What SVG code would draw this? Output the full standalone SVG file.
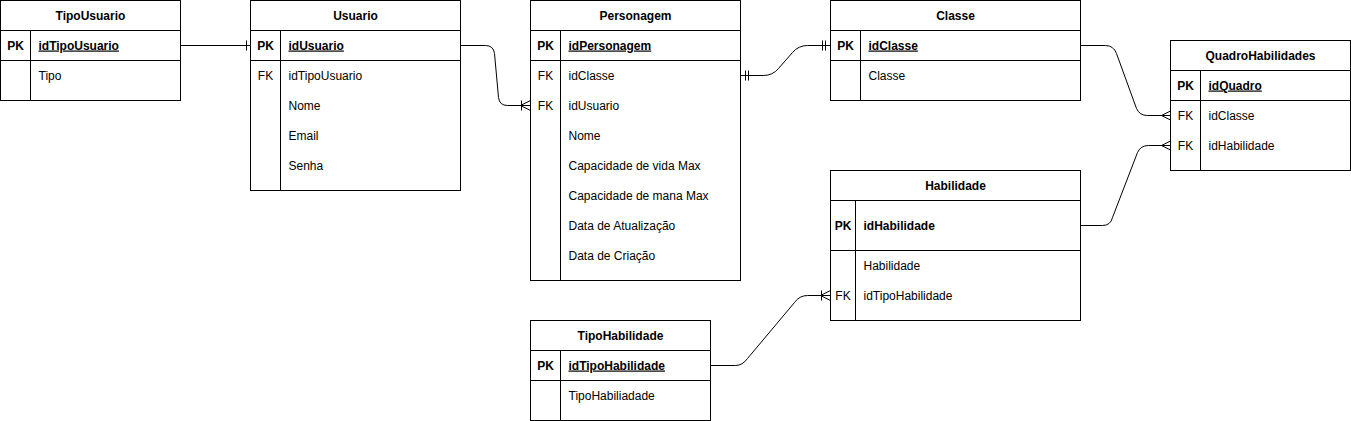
<svg xmlns="http://www.w3.org/2000/svg" width="1351" height="421" viewBox="0 0 1351 421">
<style>
.box{fill:#fff;stroke:#000;stroke-width:1}
.ln{fill:none;stroke:#000;stroke-width:1}
text{font-family:"Liberation Sans",Arial,Helvetica,sans-serif;font-size:12px;fill:#000}
.h{font-weight:bold;text-anchor:middle}
.k{text-anchor:middle}
.kb{text-anchor:middle;font-weight:bold}
.pk{font-weight:bold;text-decoration:underline}
.b{font-weight:bold}
.c{fill:none;stroke:#000;stroke-width:1}
</style>
<defs>
<marker id="one" markerUnits="userSpaceOnUse" orient="auto-start-reverse" markerWidth="20" markerHeight="20" refX="0" refY="0" overflow="visible"><path d="M-4,-5 L-4,5" fill="none" stroke="#000"/></marker>
<marker id="mandOne" markerUnits="userSpaceOnUse" orient="auto-start-reverse" markerWidth="20" markerHeight="20" refX="0" refY="0" overflow="visible"><path d="M-5,-5 L-5,5 M-8,-5 L-8,5" fill="none" stroke="#000"/></marker>
<marker id="oneToMany" markerUnits="userSpaceOnUse" orient="auto-start-reverse" markerWidth="20" markerHeight="20" refX="0" refY="0" overflow="visible"><path d="M-10,0 L0,-5 M-10,0 L0,5 M-9,-5 L-9,5" fill="none" stroke="#000"/></marker>
<marker id="many" markerUnits="userSpaceOnUse" orient="auto-start-reverse" markerWidth="20" markerHeight="20" refX="0" refY="0" overflow="visible"><path d="M-9,0 L0,-4.5 M-9,0 L0,4.5" fill="none" stroke="#000"/></marker>
</defs>
<g transform="translate(0.5,0.5)">
<g id="connectors">
<path class="c" d="M180,45 L250,45" marker-end="url(#one)"/>
<path class="c" d="M460,45 L485,45 Q493,45 494,53 L498,97 Q499,105 507,105 L530,105" marker-end="url(#oneToMany)"/>
<path class="c" d="M740,75 L763,75 Q772,75 778,68 L792,52 Q798,45 807,45 L830,45" marker-start="url(#mandOne)" marker-end="url(#mandOne)"/>
<path class="c" d="M1080,45 L1105,45 Q1113,45 1116,53 L1136,108 Q1139,115 1147,115 L1170,115" marker-end="url(#many)"/>
<path class="c" d="M1080,225 L1102,225 Q1110,225 1112,217 L1137,152 Q1140,145 1148,145 L1170,145" marker-end="url(#many)"/>
<path class="c" d="M710,365 L735,365 Q742,365 747,358 L794,302 Q799,295 807,295 L830,295" marker-end="url(#oneToMany)"/>
</g>
<g id="TipoUsuario">
<rect class="box" x="0" y="0" width="180" height="100"/>
<path class="ln" d="M0,30 H180 M0,60 H180 M30,30 V100"/>
<text class="h" x="90" y="19">TipoUsuario</text>
<text class="kb" x="15" y="49">PK</text>
<text class="pk" x="38" y="49">idTipoUsuario</text>
<text x="38" y="79">Tipo</text>
</g>
<g id="Usuario">
<rect class="box" x="250" y="0" width="210" height="190"/>
<path class="ln" d="M250,30 H460 M250,60 H460 M280,30 V190"/>
<text class="h" x="355" y="19">Usuario</text>
<text class="kb" x="265" y="49">PK</text>
<text class="pk" x="288" y="49">idUsuario</text>
<text class="k" x="265" y="79">FK</text>
<text x="288" y="79">idTipoUsuario</text>
<text x="288" y="109">Nome</text>
<text x="288" y="139">Email</text>
<text x="288" y="169">Senha</text>
</g>
<g id="Personagem">
<rect class="box" x="530" y="0" width="210" height="280"/>
<path class="ln" d="M530,30 H740 M530,60 H740 M560,30 V280"/>
<text class="h" x="635" y="19">Personagem</text>
<text class="kb" x="545" y="49">PK</text>
<text class="pk" x="568" y="49">idPersonagem</text>
<text class="k" x="545" y="79">FK</text>
<text x="568" y="79">idClasse</text>
<text class="k" x="545" y="109">FK</text>
<text x="568" y="109">idUsuario</text>
<text x="568" y="139">Nome</text>
<text x="568" y="169">Capacidade de vida Max</text>
<text x="568" y="199">Capacidade de mana Max</text>
<text x="568" y="229">Data de Atualização</text>
<text x="568" y="259">Data de Criação</text>
</g>
<g id="Classe">
<rect class="box" x="830" y="0" width="250" height="100"/>
<path class="ln" d="M830,30 H1080 M830,60 H1080 M860,30 V100"/>
<text class="h" x="955" y="19">Classe</text>
<text class="kb" x="845" y="49">PK</text>
<text class="pk" x="868" y="49">idClasse</text>
<text x="868" y="79">Classe</text>
</g>
<g id="QuadroHabilidades">
<rect class="box" x="1170" y="40" width="180" height="130"/>
<path class="ln" d="M1170,70 H1350 M1170,100 H1350 M1200,70 V170"/>
<text class="h" x="1260" y="59">QuadroHabilidades</text>
<text class="kb" x="1185" y="89">PK</text>
<text class="pk" x="1208" y="89">idQuadro</text>
<text class="k" x="1185" y="119">FK</text>
<text x="1208" y="119">idClasse</text>
<text class="k" x="1185" y="149">FK</text>
<text x="1208" y="149">idHabilidade</text>
</g>
<g id="Habilidade">
<rect class="box" x="830" y="170" width="250" height="150"/>
<path class="ln" d="M830,200 H1080 M830,250 H1080 M855,200 V320"/>
<text class="h" x="955" y="189">Habilidade</text>
<text class="kb" x="842.5" y="229">PK</text>
<text class="b" x="863" y="229">idHabilidade</text>
<text x="863" y="269">Habilidade</text>
<text class="k" x="842.5" y="299">FK</text>
<text x="863" y="299">idTipoHabilidade</text>
</g>
<g id="TipoHabilidade">
<rect class="box" x="530" y="320" width="180" height="100"/>
<path class="ln" d="M530,350 H710 M530,380 H710 M560,350 V420"/>
<text class="h" x="620" y="339">TipoHabilidade</text>
<text class="kb" x="545" y="369">PK</text>
<text class="pk" x="568" y="369">idTipoHabilidade</text>
<text x="568" y="399">TipoHabiliadade</text>
</g>
</g>
</svg>
